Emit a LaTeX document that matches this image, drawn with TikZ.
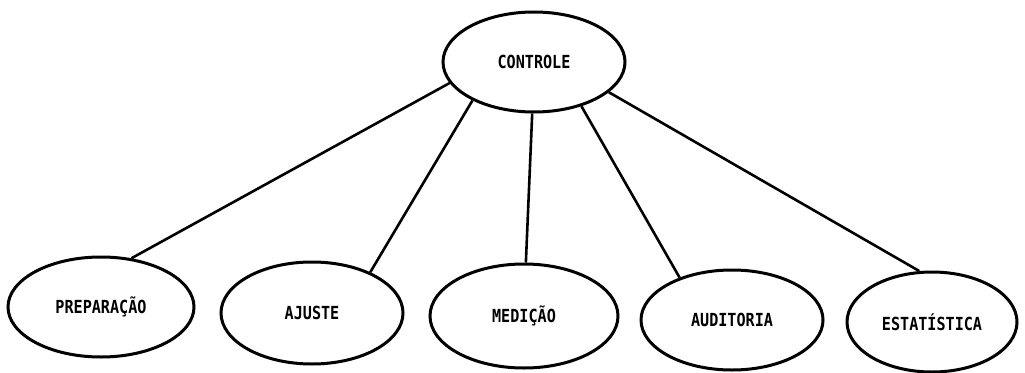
\documentclass[tikz,border=0pt]{standalone}
\usepackage{fontspec}
\newfontfamily\labelfont[FakeStretch=0.84]{DejaVu Sans Mono}
\usetikzlibrary{shapes.geometric}
\begin{document}
\begin{tikzpicture}[x=1pt,y=-1pt,
  bubble/.style={ellipse,draw,line width=3pt,inner sep=0pt,font=\labelfont\bfseries\fontsize{18}{20}\selectfont},
  link/.style={line width=2.6pt}]
\useasboundingbox[fill=white] (0,0) rectangle (1025,372);
\node[bubble,minimum width=182,minimum height=100] (c) at (534,62) {CONTROLE};
\node[bubble,minimum width=186,minimum height=100] (p) at (101,307) {PREPARAÇÃO};
\node[bubble,minimum width=182,minimum height=102] (a) at (312,313) {AJUSTE};
\node[bubble,minimum width=188,minimum height=104] (m) at (524,316) {MEDIÇÃO};
\node[bubble,minimum width=182,minimum height=100] (u) at (732,320) {AUDITORIA};
\node[bubble,minimum width=170,minimum height=100] (e) at (932,322) {ESTATÍSTICA};
\draw[link] (c.194) -- (p.58);
\draw[link] (c.212) -- (a.35);
\draw[link] (c.268) -- (m.88);
\draw[link] (c.317) -- (u.141);
\draw[link] (c.338) -- (e.104);
\end{tikzpicture}
\end{document}
